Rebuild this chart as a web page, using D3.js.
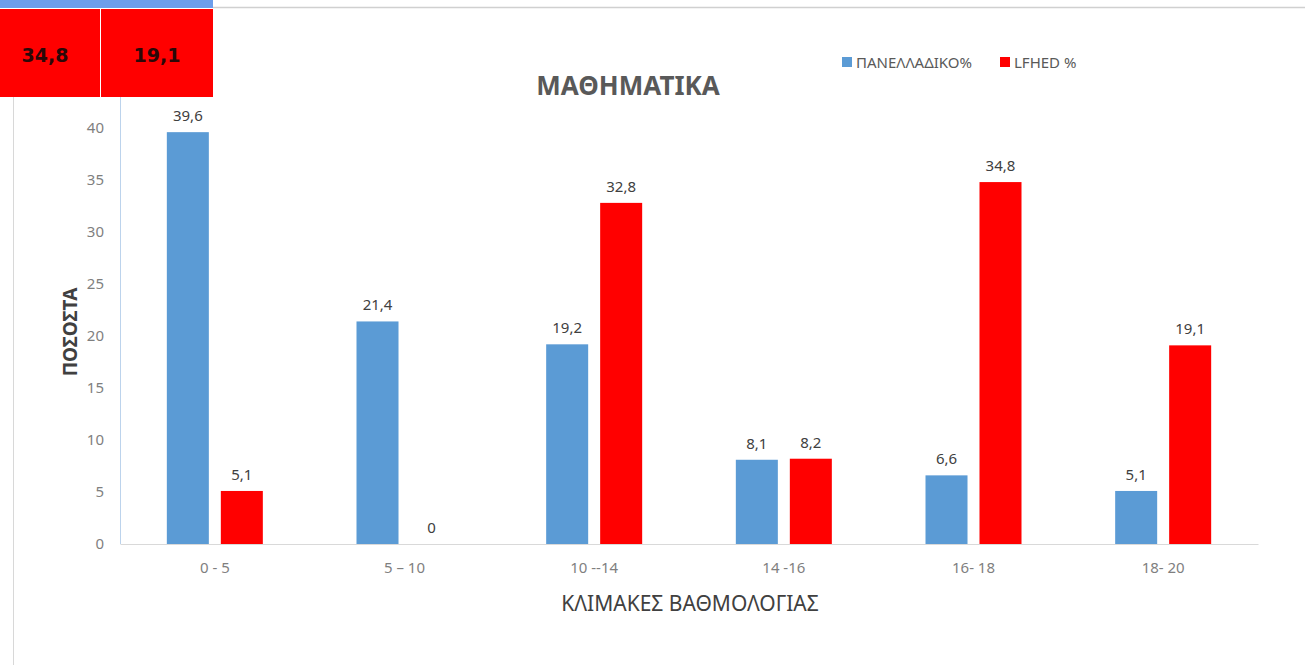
<!DOCTYPE html>
<html><head><meta charset="utf-8">
<script src="https://cdn.jsdelivr.net/npm/d3@7"></script>
<style>body{margin:0;background:#fff;}svg{display:block;}</style>
</head><body>
<svg id="c" width="1305" height="665"></svg>
<script>
const categories = ["0 - 5", "5 \u2013 10", "10 --14", "14 -16", "16- 18", "18- 20"];
const seriesNames = ["ΠΑΝΕΛΛΑΔΙΚΟ%", "LFHED %"];
const panelladiko = [39.6, 21.4, 19.2, 8.1, 6.6, 5.1];
const lfhed = [5.1, 0, 32.8, 8.2, 34.8, 19.1];
const yTicks = [0, 5, 10, 15, 20, 25, 30, 35, 40];
const cellValues = [34.8, 19.1];

const colors = ["#5B9BD5", "#FF0000"];
const font = "'Noto Sans', 'Open Sans', sans-serif";
const fmt = v => String(v).replace(".", ",");
const svg = d3.select("#c");

// spreadsheet remnants
svg.append("rect").attr("x",0).attr("y",0).attr("width",213).attr("height",8).attr("fill","#6D9EEB");
svg.append("line").attr("x1",213).attr("x2",1305).attr("y1",7.5).attr("y2",7.5).attr("stroke","#d0d0d0").attr("stroke-width",1.5);
const cellX = [0, 101];
const cellW = [100, 112];
cellValues.forEach((v,i)=>{
  svg.append("rect").attr("x",cellX[i]).attr("y",9).attr("width",cellW[i]).attr("height",88).attr("fill","#FF0000");
  svg.append("text").attr("x",cellX[i]+(i===0?45:56)).attr("y",62).attr("text-anchor","middle")
    .attr("font-family","'DejaVu Sans', sans-serif").attr("font-weight","bold").attr("font-size",19)
    .attr("fill","#2a0808").text(fmt(v));
});
svg.append("line").attr("x1",13.5).attr("x2",13.5).attr("y1",97).attr("y2",665).attr("stroke","#d8d8d8");

const margin = {left:120, right:1258, top:128, bottom:544};
const x = d3.scaleBand().domain(categories).range([margin.left, margin.right]);
const y = d3.scaleLinear().domain([0,40]).range([margin.bottom, margin.top]);
const x1 = d3.scaleBand().domain([0,1]).range([-48, 48]).paddingInner(0.222);

// y axis line
svg.append("line").attr("x1",120.5).attr("x2",120.5).attr("y1",97).attr("y2",544).attr("stroke","#bcd3ec");
// y ticks
const yAxis = d3.axisLeft(y).tickValues(yTicks).tickSize(0).tickPadding(16);
const yg = svg.append("g").attr("transform","translate(120,0)").call(yAxis);
yg.select(".domain").remove();
yg.selectAll("text").attr("font-family",font).attr("font-size",15).attr("fill","#7f7f7f");

// x axis
const xAxis = d3.axisBottom(x).tickSize(0).tickPadding(18);
const xg = svg.append("g").attr("transform","translate(0,544)").call(xAxis);
xg.select(".domain").attr("stroke","#d9d9d9");
xg.selectAll("text").attr("font-family",font).attr("font-size",15).attr("fill","#7f7f7f");

const data = categories.map((c,i)=>({c, vals:[panelladiko[i], lfhed[i]]}));
const groups = svg.append("g").selectAll("g").data(data).join("g")
  .attr("transform", d=>`translate(${x(d.c)+x.bandwidth()/2},0)`);
groups.selectAll("rect").data(d=>d.vals.map((v,k)=>({v,k}))).join("rect")
  .attr("x", d=>x1(d.k)).attr("width", x1.bandwidth())
  .attr("y", d=>y(d.v)).attr("height", d=>y(0)-y(d.v)).attr("fill", d=>colors[d.k]);
groups.selectAll("text").data(d=>d.vals.map((v,k)=>({v,k}))).join("text")
  .attr("x", d=>x1(d.k)+x1.bandwidth()/2).attr("y", d=>y(d.v)-11)
  .attr("text-anchor","middle").attr("font-family",font).attr("font-size",15).attr("fill","#404040")
  .text(d=>fmt(d.v));

// title
svg.append("text").attr("x",628).attr("y",95).attr("text-anchor","middle")
  .attr("font-family",font).attr("font-weight","bold").attr("font-size",26).attr("fill","#595959").text("ΜΑΘΗΜΑΤΙΚΑ");
// axis titles
svg.append("text").attr("transform","translate(77,332) rotate(-90)").attr("text-anchor","middle")
  .attr("font-family",font).attr("font-weight","bold").attr("font-size",19).attr("fill","#404040").text("ΠΟΣΟΣΤΑ");
svg.append("text").attr("x",690).attr("y",611).attr("text-anchor","middle")
  .attr("font-family",font).attr("font-size",21).attr("fill","#404040").text("ΚΛΙΜΑΚΕΣ ΒΑΘΜΟΛΟΓΙΑΣ");

// legend
const lx = [842, 1000];
seriesNames.forEach((n,i)=>{
  svg.append("rect").attr("x",lx[i]).attr("y",57).attr("width",10).attr("height",10).attr("fill",colors[i]);
  svg.append("text").attr("x",lx[i]+14).attr("y",68).attr("font-family",font).attr("font-size",15)
    .attr("fill","#595959").text(n);
});
</script>
</body></html>
